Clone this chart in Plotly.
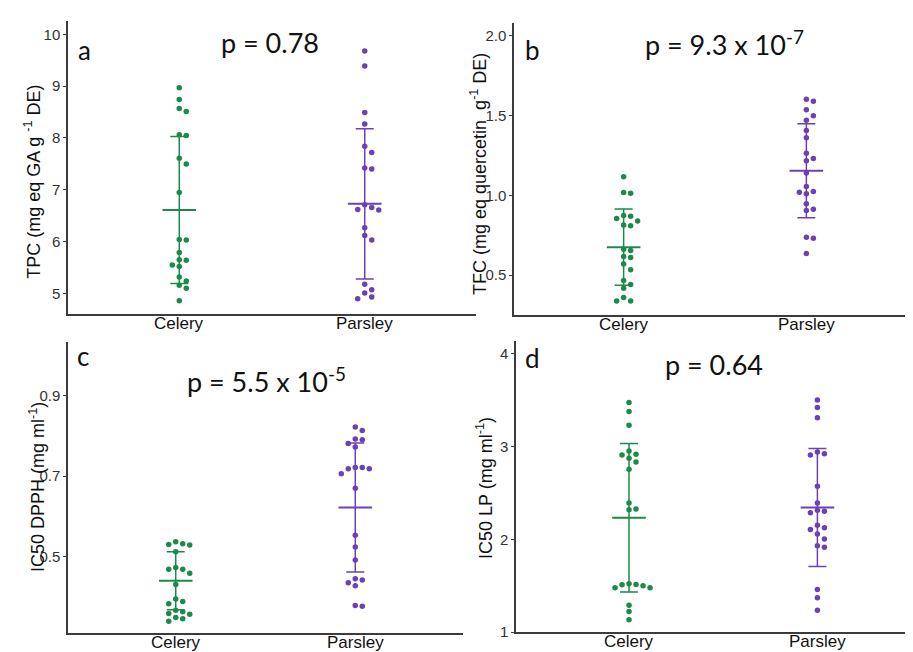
import plotly.graph_objects as go

W, H = 913, 652

categories = ["Celery", "Parsley"]

# Panel a: TPC
tpc_celery = [8.97, 8.74, 8.57, 8.51, 8.06, 8.05, 7.61, 7.50, 6.95, 6.04, 6.03,
              5.79, 5.65, 5.64, 5.55, 5.52, 5.32, 5.24, 5.16, 5.10, 4.86]
tpc_parsley = [9.68, 9.39, 8.49, 8.27, 7.84, 7.72, 7.42, 7.40, 6.71, 6.66, 6.62,
               6.61, 6.27, 6.12, 6.03, 5.18, 5.07, 5.01, 4.93, 4.90]
tpc_mean = [6.61, 6.73]
tpc_sd = [1.42, 1.45]

# Panel b: TFC
tfc_celery = [1.117, 1.018, 1.014, 0.874, 0.869, 0.855, 0.839, 0.814, 0.810, 0.663,
              0.655, 0.618, 0.611, 0.570, 0.535, 0.467, 0.442, 0.418, 0.360, 0.339, 0.339]
tfc_parsley = [1.602, 1.589, 1.536, 1.499, 1.470, 1.406, 1.360, 1.264, 1.230, 1.216,
               1.140, 1.055, 1.024, 1.020, 1.010, 0.948, 0.913, 0.905, 0.738, 0.731, 0.636]
tfc_mean = [0.676, 1.154]
tfc_sd = [0.238, 0.294]

# Panel c: IC50 DPPH
dpph_celery = [0.537, 0.532, 0.530, 0.529, 0.512, 0.473, 0.469, 0.469, 0.459, 0.431,
               0.395, 0.389, 0.383, 0.367, 0.363, 0.359, 0.357, 0.349, 0.346, 0.340]
dpph_parsley = [0.822, 0.813, 0.792, 0.790, 0.781, 0.772, 0.721, 0.721, 0.718, 0.718,
                0.706, 0.670, 0.553, 0.524, 0.492, 0.445, 0.442, 0.435, 0.428, 0.379, 0.377]
dpph_mean = [0.440, 0.622]
dpph_sd = [0.072, 0.160]

# Panel d: IC50 LP
lp_celery = [3.475, 3.379, 3.230, 2.953, 2.917, 2.911, 2.874, 2.836, 2.757, 2.392,
             2.328, 2.321, 1.522, 1.515, 1.511, 1.501, 1.479, 1.479, 1.292, 1.224, 1.135]
lp_parsley = [3.503, 3.422, 3.311, 2.942, 2.924, 2.910, 2.573, 2.392, 2.314, 2.303,
              2.289, 2.154, 2.126, 2.108, 2.059, 2.005, 1.931, 1.916, 1.462, 1.373, 1.238]
lp_mean = [2.235, 2.345]
lp_sd = [0.800, 0.636]

p_texts = ["p = 0.78", "p = 9.3 x 10<sup>-7</sup>", "p = 5.5 x 10<sup>-5</sup>", "p = 0.64"]
letters = ["a", "b", "c", "d"]
y_titles = ["TPC (mg eq GA g <sup>-1</sup> DE)",
            "TFC (mg eq quercetin  g<sup>-1</sup> DE)",
            "IC50 DPPH (mg ml<sup>-1</sup>)",
            "IC50 LP (mg ml<sup>-1</sup>)"]

GREEN = "#1c8a48"
PURPLE = "#6b41b4"
colors = [GREEN, PURPLE]

# layout boxes in pixels: left, right, top, bottom
panels = [
    dict(box=(60, 468, 13, 310), xr=(-0.6, 1.6), yr=(4.6, 10.26), ticks=[5, 6, 7, 8, 9, 10],
         data=(tpc_celery, tpc_parsley), mean=tpc_mean, sd=tpc_sd,
         letter=(76, 43), ptxt=(262, 35), ytitle=(25, 176)),
    dict(box=(506, 908, 15, 311), xr=(-0.6, 1.6), yr=(0.25, 2.08), ticks=[0.5, 1.0, 1.5, 2.0],
         data=(tfc_celery, tfc_parsley), mean=tfc_mean, sd=tfc_sd,
         letter=(524, 43), ptxt=(716, 35), ytitle=(471, 168)),
    dict(box=(60, 455, 338, 633), xr=(-0.6, 1.6), yr=(0.31, 1.033), ticks=[0.5, 0.7, 0.9],
         data=(dpph_celery, dpph_parsley), mean=dpph_mean, sd=dpph_sd,
         letter=(75, 352), ptxt=(258, 377), ytitle=(29, 485)),
    dict(box=(508, 913, 337, 632), xr=(-0.6, 1.55), yr=(1.0, 4.14), ticks=[1, 2, 3, 4],
         data=(lp_celery, lp_parsley), mean=lp_mean, sd=lp_sd,
         letter=(524, 354), ptxt=(706, 361), ytitle=(476, 486)),
]


def swarm(values, px_per_y, step_px=7.0, thresh=6.3):
    order = sorted(range(len(values)), key=lambda i: -values[i])
    placed = []
    offs = [0.0] * len(values)
    cands = [0]
    for n in range(1, 12):
        cands += [n, -n]
    for i in order:
        y = values[i] * px_per_y
        for c in cands:
            x = c * step_px
            if all(((x - qx) ** 2 + (y - qy) ** 2) ** 0.5 >= thresh for qx, qy in placed):
                placed.append((x, y))
                offs[i] = x
                break
    return offs


fig = go.Figure()
annotations = []
layout_axes = {}

for idx, p in enumerate(panels):
    L, R, T, B = p["box"]
    n = "" if idx == 0 else str(idx + 1)
    xa, ya = "x" + n, "y" + n
    px_per_cat = (R - L) / (p["xr"][1] - p["xr"][0])
    px_per_y = (B - T) / (p["yr"][1] - p["yr"][0])
    for g in range(2):
        vals = p["data"][g]
        offs = swarm(vals, px_per_y)
        xs = [g + o / px_per_cat for o in offs]
        fig.add_trace(go.Scatter(
            x=[g], y=[p["mean"][g]], xaxis=xa, yaxis=ya, mode="markers",
            marker=dict(symbol="line-ew", size=24, color=colors[g],
                        line=dict(color=colors[g], width=2)),
            error_y=dict(type="data", array=[p["sd"][g]], visible=True,
                         color=colors[g], thickness=1.5, width=9),
            hoverinfo="skip"))
        fig.add_trace(go.Scatter(
            x=xs, y=vals, xaxis=xa, yaxis=ya, mode="markers",
            marker=dict(size=5.5, color=colors[g], line=dict(width=0))))
        annotations.append(dict(text=categories[g], x=g, xref=xa, y=1 - B / H, yref="paper",
                                showarrow=False, xanchor="center", yanchor="top", yshift=2,
                                font=dict(family="Liberation Sans, Arial", size=17, color="#111111")))
    axis_common = dict(showline=True, linecolor="#3c3c3c", linewidth=1.5,
                       showgrid=False, zeroline=False, ticks="outside", ticklen=3,
                       tickcolor="#3c3c3c", tickwidth=1)
    layout_axes["xaxis" + n] = dict(
        axis_common, domain=[L / W, R / W], range=list(p["xr"]), anchor=ya,
        tickvals=[0, 1], ticktext=categories, ticks="", showticklabels=False)
    layout_axes["yaxis" + n] = dict(
        axis_common, domain=[1 - B / H, 1 - T / H], range=list(p["yr"]), anchor=xa,
        tickvals=p["ticks"],
        ticktext=[("%g" % t) if idx in (0, 3) else ("%.1f" % t) for t in p["ticks"]],
        tickfont=dict(family="Liberation Sans, Arial", size=15, color="#333333"))
    annotations.append(dict(text=letters[idx], x=p["letter"][0] / W, y=1 - p["letter"][1] / H,
                            xref="paper", yref="paper", showarrow=False,
                            xanchor="center", yanchor="middle",
                            font=dict(family="Lato, Noto Sans", size=26, color="#111111")))
    annotations.append(dict(text=p_texts[idx], x=p["ptxt"][0] / W, y=1 - p["ptxt"][1] / H,
                            xref="paper", yref="paper", showarrow=False,
                            xanchor="center", yanchor="middle",
                            font=dict(family="Lato, Noto Sans", size=27, color="#111111")))
    annotations.append(dict(text=y_titles[idx], x=p["ytitle"][0] / W, y=1 - p["ytitle"][1] / H,
                            xref="paper", yref="paper", showarrow=False, textangle=-90,
                            xanchor="center", yanchor="middle",
                            font=dict(family="Liberation Sans, Arial", size=18, color="#111111")))

fig.update_layout(width=W, height=H, margin=dict(l=0, r=0, t=0, b=0),
                  paper_bgcolor="white", plot_bgcolor="white", showlegend=False,
                  annotations=annotations, **layout_axes)

fig.write_html("out.html")
